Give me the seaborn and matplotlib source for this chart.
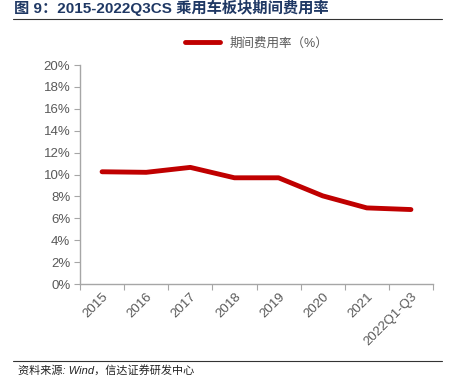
import matplotlib
matplotlib.use('Agg')
import matplotlib.pyplot as plt
import seaborn as sns
import pandas as pd

categories = ['2015', '2016', '2017', '2018', '2019', '2020', '2021', '2022Q1-Q3']
expense_rate = [10.25, 10.2, 10.65, 9.7, 9.7, 8.05, 6.95, 6.8]

df = pd.DataFrame({'x': range(len(categories)), 'rate': expense_rate})

sns.set_style('white')
plt.rcParams['font.family'] = ['Liberation Sans', 'Noto Sans CJK SC', 'DejaVu Sans']

fig = plt.figure(figsize=(4.58, 3.89), dpi=100)
ax = fig.add_axes([0.1747, 0.2699, 0.7707, 0.5630])

red = '#C00000'
grey = '#595959'
sns.lineplot(data=df, x='x', y='rate', color=red, linewidth=3.5, ax=ax,
             label='期间费用率（%）')

ax.set_xlim(-0.5, len(categories) - 0.5)
ax.set_ylim(0, 20)
ax.set_yticks(range(0, 21, 2))
ax.set_yticklabels([f'{v}%' for v in range(0, 21, 2)], color=grey, fontsize=9.5)

ax.set_xticks([i - 0.5 for i in range(len(categories) + 1)])
ax.set_xticklabels([])
ax.set_xticks(range(len(categories)), minor=True)
ax.set_xticklabels(categories, minor=True, rotation=45, ha='right',
                   rotation_mode='anchor', color=grey, fontsize=9.5)
ax.tick_params(axis='x', which='minor', length=0, pad=5)
ax.tick_params(axis='x', which='major', length=4, color='#a6a6a6', direction='out', bottom=True)
ax.tick_params(axis='y', length=4, color='#a6a6a6', direction='out', left=True, pad=3)
ax.set_xlabel('')
ax.set_ylabel('')

for s in ['top', 'right']:
    ax.spines[s].set_visible(False)
for s in ['left', 'bottom']:
    ax.spines[s].set_color('#a6a6a6')
    ax.spines[s].set_linewidth(1)

leg = ax.legend(loc='lower center', bbox_to_anchor=(0.5, 1.02), frameon=False,
                fontsize=9, handlelength=2.8, labelcolor=grey)

fig.text(0.03, 0.958, '图 9：2015-2022Q3CS 乘用车板块期间费用率', fontsize=11,
         fontweight='bold', color='#1F3864', va='bottom', ha='left')
fig.add_artist(plt.Line2D([0.028, 0.965], [0.952, 0.952], color='#333333', linewidth=0.8))
fig.add_artist(plt.Line2D([0.028, 0.965], [0.072, 0.072], color='#333333', linewidth=0.8))
fig.text(0.04, 0.047, '资料来源: Wind，信达证券研发中心', fontsize=8, style='italic',
         color='#222222', va='center', ha='left')

fig.savefig('out.png', dpi=100)
